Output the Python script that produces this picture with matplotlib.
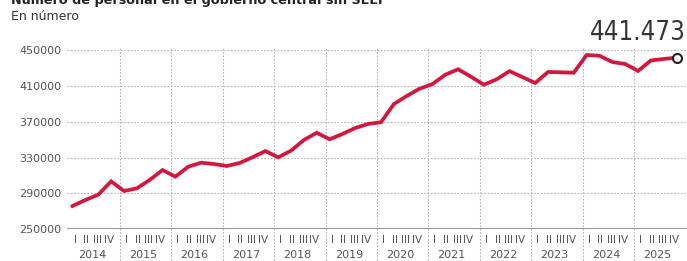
import numpy as np
import matplotlib
matplotlib.use('Agg')
import matplotlib.pyplot as plt
from matplotlib import font_manager

years = [str(y) for y in range(2014, 2026)]
quarters = ['I', 'II', 'III', 'IV']

# personal por trimestre, 2014 I .. 2025 IV
personal = [
    276000, 282700, 288600, 303500,
    292700, 295700, 305000, 316100,
    308700, 319800, 324300, 322800,
    320600, 324000, 330300, 337300,
    330300, 337700, 349600, 357700,
    350400, 356300, 363000, 367500,
    369400, 389700, 398700, 406800,
    412000, 422400, 428500, 420200,
    411300, 417300, 426400, 419800,
    413200, 425500, 425100, 424700,
    444400, 443600, 436600, 434400,
    426600, 438300, 440000, 441473,
]
y_ticks = [250000, 290000, 330000, 370000, 410000, 450000]
last_label = '441.473'

red = '#d4173e'
grey_txt = '#555555'

# upright condensed face for the big number, if one is installed
narrow = None
for f in font_manager.fontManager.ttflist:
    n = f.name.lower() + ' ' + f.fname.lower()
    if ('narrow' in n or 'condensed' in n or f.stretch in ('condensed', 'semi-condensed')) \
            and f.style == 'normal' and 'oblique' not in n and 'italic' not in n \
            and 'bold' not in n and f.weight in ('normal', 'regular', 400, 500, 'medium'):
        narrow = f.fname
        break

fig = plt.figure(figsize=(6.87, 2.61), dpi=100)
ax = fig.add_axes([0.0975, 0.1215, 0.9025, 0.6938])

x = np.arange(len(personal))
ax.set_xlim(-0.436, 47.81)
ax.set_ylim(250000, 452000)

# grid
for v in y_ticks[1:]:
    ax.axhline(v, color='#b5b5b5', lw=0.8, ls=(0, (1.5, 1.5)), zorder=1)
ax.axhline(250000, color='#8c8c8c', lw=1.3, zorder=2)
for k in range(1, len(years)):
    ax.axvline(4 * k - 0.31, ymin=-0.17, ymax=1.0, color='#b5b5b5', lw=0.8,
               ls=(0, (1.5, 1.5)), clip_on=False, zorder=1)

ax.plot(x, personal, color=red, lw=2.7, solid_joinstyle='miter', zorder=3)
ax.plot(x[-1], personal[-1], 'o', ms=6.5, mfc='white', mec='#222222', mew=1.5,
        zorder=4, clip_on=False)

for s in ax.spines.values():
    s.set_visible(False)
ax.set_yticks(y_ticks)
ax.set_yticklabels([str(v) for v in y_ticks])
ax.tick_params(axis='y', length=0, pad=4, labelsize=8, labelcolor=grey_txt)
ax.set_xticks([])

# quarter and year labels
for j, yr in enumerate(years):
    c = 4 * j + 1.5
    for q, ql in enumerate(quarters):
        ax.text(c + (q - 1.5) * 0.87, -0.06, ql, transform=ax.get_xaxis_transform(),
                ha='center', va='center', fontsize=7.5, color=grey_txt)
    ax.text(c, -0.14, yr, transform=ax.get_xaxis_transform(),
            ha='center', va='center', fontsize=8, color=grey_txt)

fig.text(11 / 687, 1 - 4 / 261, 'Número de personal en el gobierno central sin SEEF',
         fontsize=9.2, fontweight='bold', color='#222222', va='baseline', ha='left')
fig.text(11 / 687, 1 - 17 / 261, 'En número', fontsize=9, color='#333333',
         va='center', ha='left')
if narrow:
    fp = font_manager.FontProperties(fname=narrow, size=18.5)
else:
    fp = font_manager.FontProperties(family='Roboto', size=17)
fig.text(686 / 687, 1 - 40 / 261, last_label, color='#333333',
         fontproperties=fp, va='baseline', ha='right')

fig.savefig('out.png', dpi=100)
